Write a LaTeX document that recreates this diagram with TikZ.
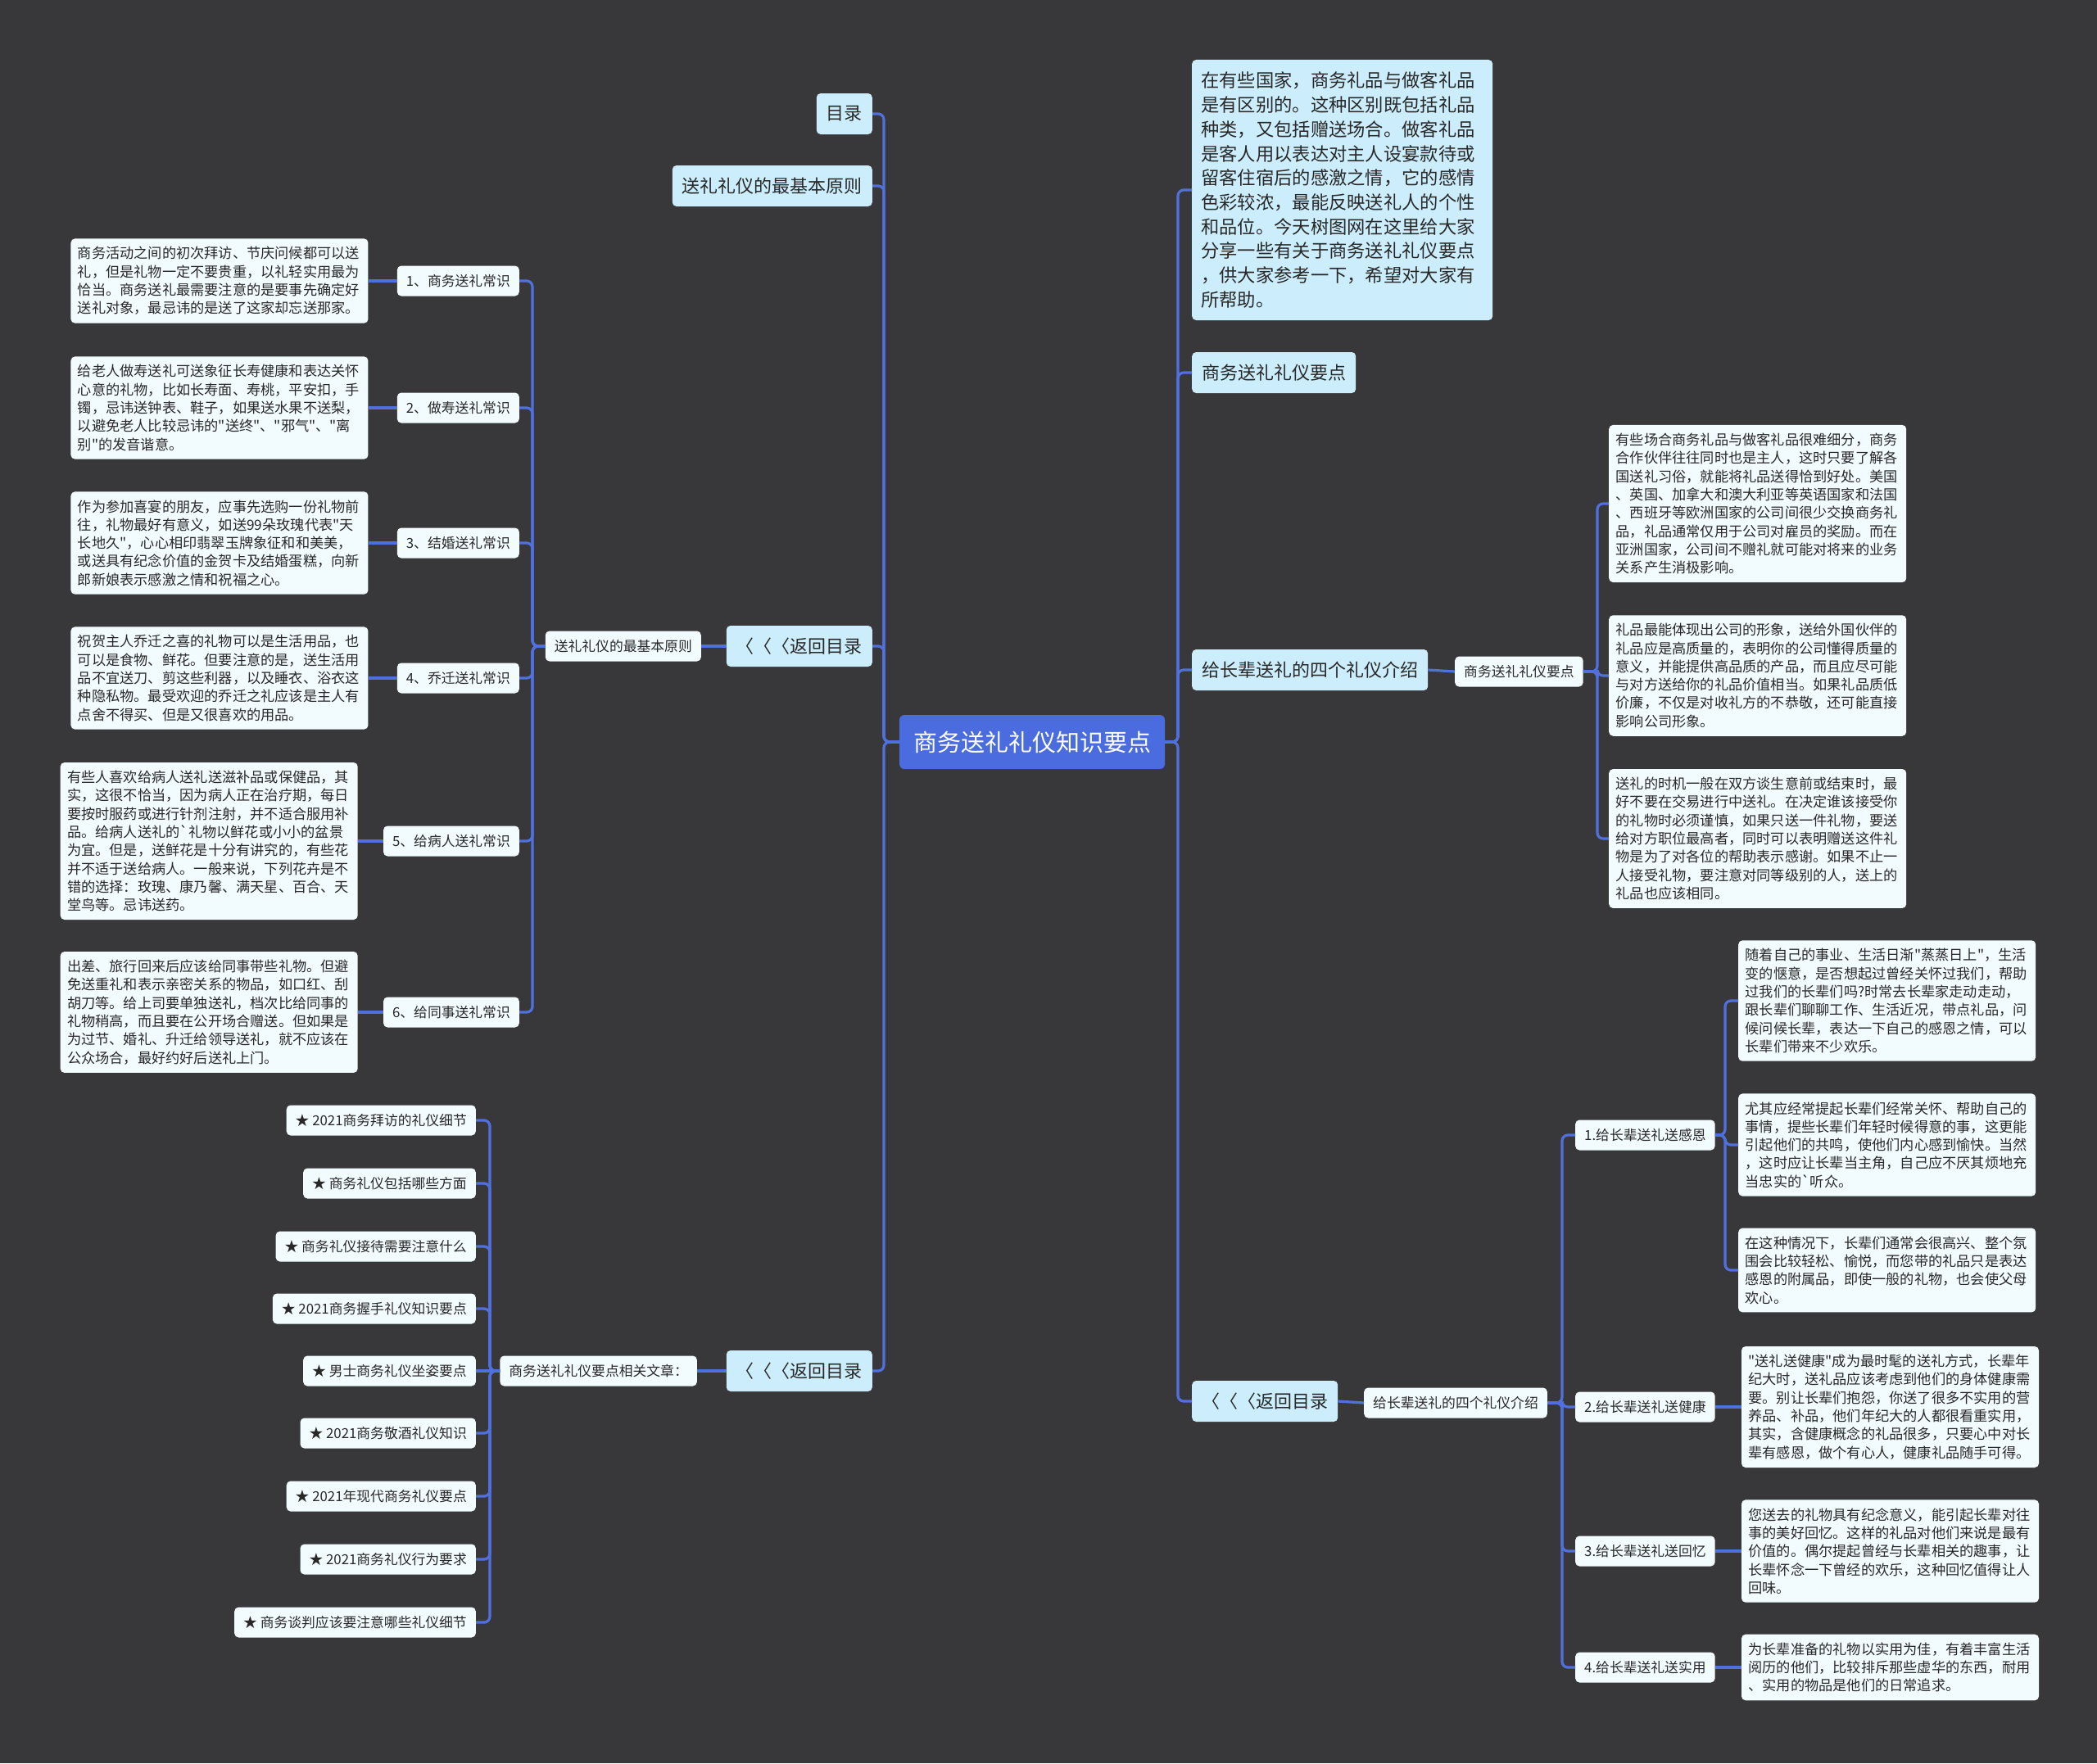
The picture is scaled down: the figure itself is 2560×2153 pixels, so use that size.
\documentclass[tikz,border=0pt]{standalone}
\usepackage{fontspec}
\usepackage{xcolor}
\usepackage{tikz}
\usetikzlibrary{positioning}

\newfontfamily\cjkfont{Noto Sans CJK SC}
\definecolor{bgcol}{RGB}{56,55,57}
\definecolor{rootblue}{RGB}{74,108,222}
\definecolor{lineblue}{RGB}{80,112,222}
\definecolor{topicblue}{RGB}{204,238,252}
\definecolor{palebox}{RGB}{242,251,254}
\definecolor{ink}{RGB}{40,40,40}

\begin{document}
\begin{tikzpicture}[x=1pt, y=-1pt,
    link/.style={draw=lineblue, line width=3.2pt, rounded corners=7pt},
    rootbox/.style={fill=rootblue, text=white, rounded corners=6pt, inner xsep=17pt, minimum height=66pt, font=\cjkfont\fontsize{29}{35}\selectfont},
    topic/.style={fill=topicblue, text=ink, rounded corners=5pt, inner xsep=12pt, minimum height=50pt, font=\cjkfont\fontsize{22}{27}\selectfont},
    leaf/.style={fill=palebox, text=ink, rounded corners=5pt, inner xsep=11pt, minimum height=37pt, font=\cjkfont\fontsize{16.8}{20}\selectfont},
    para/.style={fill=palebox, text=ink, rounded corners=5pt, inner xsep=8.5pt, inner ysep=10pt, text width=346pt, align=left, font=\cjkfont\fontsize{17.2}{22.3}\selectfont},
    node distance=35pt]

    % background and page size
    \fill[bgcol] (0,0) rectangle (2560,2153);

    \node[rootbox] (root) at (1260,906) {商务送礼礼仪知识要点};
    \coordinate (spL) at (1079,0);
    \coordinate (spR) at (1438,0);

    % left side
    \node[topic, anchor=east] (mulu) at (1065,139) {目录};
    \node[topic, anchor=east] (yz1) at (1065,227) {送礼礼仪的最基本原则};
    \node[topic, anchor=east] (back1) at (1065,789) {〈〈〈返回目录};
    \node[topic, anchor=east] (back2) at (1065,1674) {〈〈〈返回目录};

    \node[leaf, anchor=east] (yz2) at (856,789) {送礼礼仪的最基本原则};
    \coordinate (spA) at (650,0);
    \node[leaf, anchor=east] (c1) at (634,343) {1、商务送礼常识};
    \node[leaf, anchor=east] (c2) at (634,498) {2、做寿送礼常识};
    \node[leaf, anchor=east] (c3) at (634,663) {3、结婚送礼常识};
    \node[leaf, anchor=east] (c4) at (634,828) {4、乔迁送礼常识};
    \node[leaf, anchor=east] (c5) at (634,1027) {5、给病人送礼常识};
    \node[leaf, anchor=east] (c6) at (634,1236) {6、给同事送礼常识};

    \node[para, left=of c1] (t1) {商务活动之间的初次拜访、节庆问候都可以送\\礼，但是礼物一定不要贵重，以礼轻实用最为\\恰当。商务送礼最需要注意的是要事先确定好\\送礼对象，最忌讳的是送了这家却忘送那家。};
    \node[para, left=of c2] (t2) {给老人做寿送礼可送象征长寿健康和表达关怀\\心意的礼物，比如长寿面、寿桃，平安扣，手\\镯，忌讳送钟表、鞋子，如果送水果不送梨，\\以避免老人比较忌讳的"送终"、"邪气"、"离\\别"的发音谐意。};
    \node[para, left=of c3] (t3) {作为参加喜宴的朋友，应事先选购一份礼物前\\往，礼物最好有意义，如送99朵玫瑰代表"天\\长地久"，心心相印翡翠玉牌象征和和美美，\\或送具有纪念价值的金贺卡及结婚蛋糕，向新\\郎新娘表示感激之情和祝福之心。};
    \node[para, left=of c4] (t4) {祝贺主人乔迁之喜的礼物可以是生活用品，也\\可以是食物、鲜花。但要注意的是，送生活用\\品不宜送刀、剪这些利器，以及睡衣、浴衣这\\种隐私物。最受欢迎的乔迁之礼应该是主人有\\点舍不得买、但是又很喜欢的用品。};
    \node[para, left=31pt of c5] (t5) {有些人喜欢给病人送礼送滋补品或保健品，其\\实，这很不恰当，因为病人正在治疗期，每日\\要按时服药或进行针剂注射，并不适合服用补\\品。给病人送礼的`礼物以鲜花或小小的盆景\\为宜。但是，送鲜花是十分有讲究的，有些花\\并不适于送给病人。一般来说，下列花卉是不\\错的选择：玫瑰、康乃馨、满天星、百合、天\\堂鸟等。忌讳送药。};
    \node[para, left=31pt of c6] (t6) {出差、旅行回来后应该给同事带些礼物。但避\\免送重礼和表示亲密关系的物品，如口红、刮\\胡刀等。给上司要单独送礼，档次比给同事的\\礼物稍高，而且要在公开场合赠送。但如果是\\为过节、婚礼、升迁给领导送礼，就不应该在\\公众场合，最好约好后送礼上门。};

    \node[leaf, anchor=east] (rel) at (851,1674) {商务送礼礼仪要点相关文章：};
    \coordinate (spB) at (598,0);
    \node[leaf, anchor=east] (a1) at (581,1368) {★ 2021商务拜访的礼仪细节};
    \node[leaf, anchor=east] (a2) at (581,1445) {★ 商务礼仪包括哪些方面};
    \node[leaf, anchor=east] (a3) at (581,1522) {★ 商务礼仪接待需要注意什么};
    \node[leaf, anchor=east] (a4) at (581,1598) {★ 2021商务握手礼仪知识要点};
    \node[leaf, anchor=east] (a5) at (581,1674) {★ 男士商务礼仪坐姿要点};
    \node[leaf, anchor=east] (a6) at (581,1750) {★ 2021商务敬酒礼仪知识};
    \node[leaf, anchor=east] (a7) at (581,1827) {★ 2021年现代商务礼仪要点};
    \node[leaf, anchor=east] (a8) at (581,1904) {★ 2021商务礼仪行为要求};
    \node[leaf, anchor=east] (a9) at (581,1981) {★ 商务谈判应该要注意哪些礼仪细节};

    % right side
    \node[topic, anchor=west, inner xsep=11pt, inner ysep=15pt, text width=345pt, align=left, font=\cjkfont\fontsize{22.3}{29.7}\selectfont] (intro) at (1455,232) {在有些国家，商务礼品与做客礼品\\是有区别的。这种区别既包括礼品\\种类，又包括赠送场合。做客礼品\\是客人用以表达对主人设宴款待或\\留客住宿后的感激之情，它的感情\\色彩较浓，最能反映送礼人的个性\\和品位。今天树图网在这里给大家\\分享一些有关于商务送礼礼仪要点\\，供大家参考一下，希望对大家有\\所帮助。};
    \node[topic, anchor=west] (yd1) at (1455,455) {商务送礼礼仪要点};
    \node[topic, anchor=west] (sg1) at (1455,818) {给长辈送礼的四个礼仪介绍};
    \node[topic, anchor=west] (back3) at (1455,1711) {〈〈〈返回目录};

    \node[leaf, anchor=west] (yd2) at (1776,820) {商务送礼礼仪要点};
    \coordinate (spC) at (1950,0);
    \node[para, anchor=west] (r1) at (1964,615) {有些场合商务礼品与做客礼品很难细分，商务\\合作伙伴往往同时也是主人，这时只要了解各\\国送礼习俗，就能将礼品送得恰到好处。美国\\、英国、加拿大和澳大利亚等英语国家和法国\\、西班牙等欧洲国家的公司间很少交换商务礼\\品，礼品通常仅用于公司对雇员的奖励。而在\\亚洲国家，公司间不赠礼就可能对将来的业务\\关系产生消极影响。};
    \node[para, anchor=west] (r2) at (1964,825) {礼品最能体现出公司的形象，送给外国伙伴的\\礼品应是高质量的，表明你的公司懂得质量的\\意义，并能提供高品质的产品，而且应尽可能\\与对方送给你的礼品价值相当。如果礼品质低\\价廉，不仅是对收礼方的不恭敬，还可能直接\\影响公司形象。};
    \node[para, anchor=west] (r3) at (1964,1024) {送礼的时机一般在双方谈生意前或结束时，最\\好不要在交易进行中送礼。在决定谁该接受你\\的礼物时必须谨慎，如果只送一件礼物，要送\\给对方职位最高者，同时可以表明赠送这件礼\\物是为了对各位的帮助表示感谢。如果不止一\\人接受礼物，要注意对同等级别的人，送上的\\礼品也应该相同。};

    \node[leaf, anchor=west] (sg2) at (1665,1713) {给长辈送礼的四个礼仪介绍};
    \coordinate (spD) at (1907,0);
    \node[leaf, anchor=west] (g1) at (1923,1386) {1.给长辈送礼送感恩};
    \node[leaf, anchor=west] (g2) at (1923,1718) {2.给长辈送礼送健康};
    \node[leaf, anchor=west] (g3) at (1923,1894) {3.给长辈送礼送回忆};
    \node[leaf, anchor=west] (g4) at (1923,2036) {4.给长辈送礼送实用};
    \coordinate (spE) at (2106,0);
    \node[para, anchor=west] (s1a) at (2122,1222) {随着自己的事业、生活日渐"蒸蒸日上"，生活\\变的惬意，是否想起过曾经关怀过我们，帮助\\过我们的长辈们吗?时常去长辈家走动走动，\\跟长辈们聊聊工作、生活近况，带点礼品，问\\候问候长辈，表达一下自己的感恩之情，可以\\长辈们带来不少欢乐。};
    \node[para, anchor=west] (s1b) at (2122,1398) {尤其应经常提起长辈们经常关怀、帮助自己的\\事情，提些长辈们年轻时候得意的事，这更能\\引起他们的共鸣，使他们内心感到愉快。当然\\，这时应让长辈当主角，自己应不厌其烦地充\\当忠实的`听众。};
    \node[para, anchor=west] (s1c) at (2122,1551) {在这种情况下，长辈们通常会很高兴、整个氛\\围会比较轻松、愉悦，而您带的礼品只是表达\\感恩的附属品，即使一般的礼物，也会使父母\\欢心。};
    \node[para, right=32pt of g2] (s2) {"送礼送健康"成为最时髦的送礼方式，长辈年\\纪大时，送礼品应该考虑到他们的身体健康需\\要。别让长辈们抱怨，你送了很多不实用的营\\养品、补品，他们年纪大的人都很看重实用，\\其实，含健康概念的礼品很多，只要心中对长\\辈有感恩，做个有心人，健康礼品随手可得。};
    \node[para, right=32pt of g3] (s3) {您送去的礼物具有纪念意义，能引起长辈对往\\事的美好回忆。这样的礼品对他们来说是最有\\价值的。偶尔提起曾经与长辈相关的趣事，让\\长辈怀念一下曾经的欢乐，这种回忆值得让人\\回味。};
    \node[para, right=32pt of g4] (s4) {为长辈准备的礼物以实用为佳，有着丰富生活\\阅历的他们，比较排斥那些虚华的东西，耐用\\、实用的物品是他们的日常追求。};

    % connectors, left
    \draw[link] (root.west) -- (root.west -| spL) |- (mulu.east);
    \draw[link] (root.west) -- (root.west -| spL) |- (yz1.east);
    \draw[link] (root.west) -- (root.west -| spL) |- (back1.east);
    \draw[link] (root.west) -- (root.west -| spL) |- (back2.east);
    \draw[link] (back1.west) -- (yz2.east);
    \draw[link] (yz2.west) -- (yz2.west -| spA) |- (c1.east);
    \draw[link] (yz2.west) -- (yz2.west -| spA) |- (c2.east);
    \draw[link] (yz2.west) -- (yz2.west -| spA) |- (c3.east);
    \draw[link] (yz2.west) -- (yz2.west -| spA) |- (c4.east);
    \draw[link] (yz2.west) -- (yz2.west -| spA) |- (c5.east);
    \draw[link] (yz2.west) -- (yz2.west -| spA) |- (c6.east);
    \draw[link] (c1.west) -- (t1.east);
    \draw[link] (c2.west) -- (t2.east);
    \draw[link] (c3.west) -- (t3.east);
    \draw[link] (c4.west) -- (t4.east);
    \draw[link] (c5.west) -- (t5.east);
    \draw[link] (c6.west) -- (t6.east);
    \draw[link] (back2.west) -- (rel.east);
    \draw[link] (rel.west) -- (rel.west -| spB) |- (a1.east);
    \draw[link] (rel.west) -- (rel.west -| spB) |- (a2.east);
    \draw[link] (rel.west) -- (rel.west -| spB) |- (a3.east);
    \draw[link] (rel.west) -- (rel.west -| spB) |- (a4.east);
    \draw[link] (rel.west) -- (a5.east);
    \draw[link] (rel.west) -- (rel.west -| spB) |- (a6.east);
    \draw[link] (rel.west) -- (rel.west -| spB) |- (a7.east);
    \draw[link] (rel.west) -- (rel.west -| spB) |- (a8.east);
    \draw[link] (rel.west) -- (rel.west -| spB) |- (a9.east);

    % connectors, right
    \draw[link] (root.east) -- (root.east -| spR) |- (intro.west);
    \draw[link] (root.east) -- (root.east -| spR) |- (yd1.west);
    \draw[link] (root.east) -- (root.east -| spR) |- (sg1.west);
    \draw[link] (root.east) -- (root.east -| spR) |- (back3.west);
    \draw[link] (sg1.east) -- (yd2.west);
    \draw[link] (yd2.east) -- (yd2.east -| spC) |- (r1.west);
    \draw[link] (yd2.east) -- (yd2.east -| spC) |- (r2.west);
    \draw[link] (yd2.east) -- (yd2.east -| spC) |- (r3.west);
    \draw[link] (back3.east) -- (sg2.west);
    \draw[link] (sg2.east) -- (sg2.east -| spD) |- (g1.west);
    \draw[link] (sg2.east) -- (sg2.east -| spD) |- (g2.west);
    \draw[link] (sg2.east) -- (sg2.east -| spD) |- (g3.west);
    \draw[link] (sg2.east) -- (sg2.east -| spD) |- (g4.west);
    \draw[link] (g1.east) -- (g1.east -| spE) |- (s1a.west);
    \draw[link] (g1.east) -- (g1.east -| spE) |- (s1b.west);
    \draw[link] (g1.east) -- (g1.east -| spE) |- (s1c.west);
    \draw[link] (g2.east) -- (s2.west);
    \draw[link] (g3.east) -- (s3.west);
    \draw[link] (g4.east) -- (s4.west);
\end{tikzpicture}
\end{document}
